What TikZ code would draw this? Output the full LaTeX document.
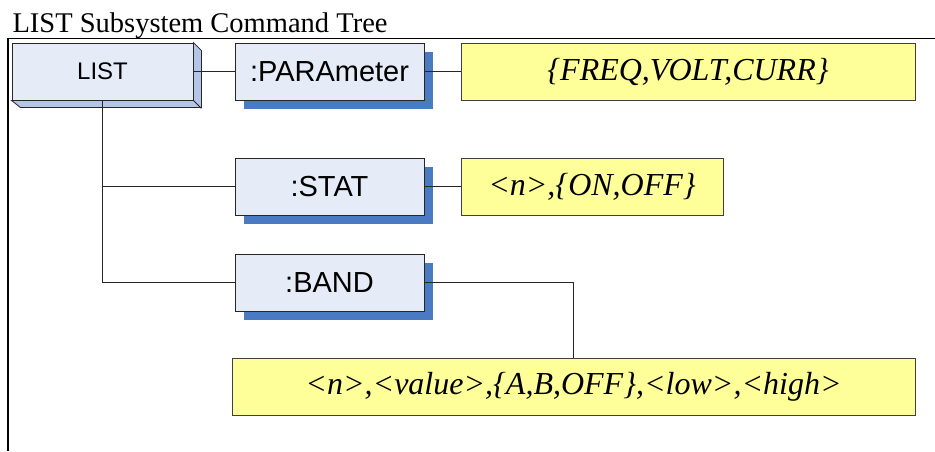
\documentclass[tikz,border=0pt]{standalone}
\usepackage{fontspec}
\setmainfont{Liberation Serif}
\setsansfont{Liberation Sans}
\usetikzlibrary{shadows}
\definecolor{boxface}{HTML}{E6ECF7}
\definecolor{boxside}{HTML}{B3C6E7}
\definecolor{shadowblue}{HTML}{4A7AC2}
\definecolor{argyellow}{HTML}{FFFF99}

\begin{document}
\begin{tikzpicture}[x=1pt, y=-1pt,
    cmd/.style={draw=black!85, line width=0.9pt, fill=boxface, minimum width=189pt, minimum height=57pt, inner sep=0pt,
        font=\sffamily\fontsize{29}{30}\selectfont,
        drop shadow={shadow xshift=9pt, shadow yshift=-9pt, fill=shadowblue, opacity=1}},
    arg/.style={draw=black!75, line width=0.9pt, fill=argyellow, minimum height=57pt, inner sep=0pt,
        font=\itshape\fontsize{32}{33}\selectfont},
    wire/.style={black!85, line width=0.8pt}]
    \useasboundingbox (0,0) rectangle (935,451);

    % Title and frame
    \node[anchor=base west, font=\fontsize{28.5}{30}\selectfont] (title) at (9,32) {LIST Subsystem Command Tree};
    \draw[line width=1.6pt] (935,38.5) -- (8,38.5) -- (8,451);

    % Root node with 3D edge
    \node[draw=black!85, line width=0.9pt, fill=boxface, minimum width=181pt, minimum height=57pt, inner sep=0pt,
        font=\sffamily\fontsize{24}{25}\selectfont] (list) at (102.5,71.5) {LIST};
    \filldraw[boxside, draw=black!85, line width=0.8pt] (list.north east) -- ++(8,8) -- ++(0,57) -- ++(-181,0)
        -- (list.south west) -- (list.south east) -- cycle;
    \draw[black!85, line width=0.8pt] (list.south east) -- ++(8,8);

    % Commands
    \node[cmd] (param) at (329.5,71.5) {:PARAmeter};
    \node[cmd] (stat) at (329.5,186.5) {:STAT};
    \node[cmd] (band) at (329.5,282.5) {:BAND};

    % Parameters
    \node[arg, minimum width=454pt] (paramargs) at (688,71.5) {\{FREQ,VOLT,CURR\}};
    \node[arg, minimum width=262pt] (statargs) at (592,186.5) {<n>,\{ON,OFF\}};
    \node[arg, minimum width=683pt] (bandargs) at (573.5,386.5) {<n>,<value>,\{A,B,OFF\},<low>,<high>};

    % Connectors
    \draw[wire] (list.east) -- (param.west);
    \draw[wire] (list.south) |- (stat.west);
    \draw[wire] (list.south) |- (band.west);
    \draw[wire] (param.east) -- (paramargs.west);
    \draw[wire] (stat.east) -- (statargs.west);
    \draw[wire] (band.east) -| (bandargs.north);
\end{tikzpicture}
\end{document}
